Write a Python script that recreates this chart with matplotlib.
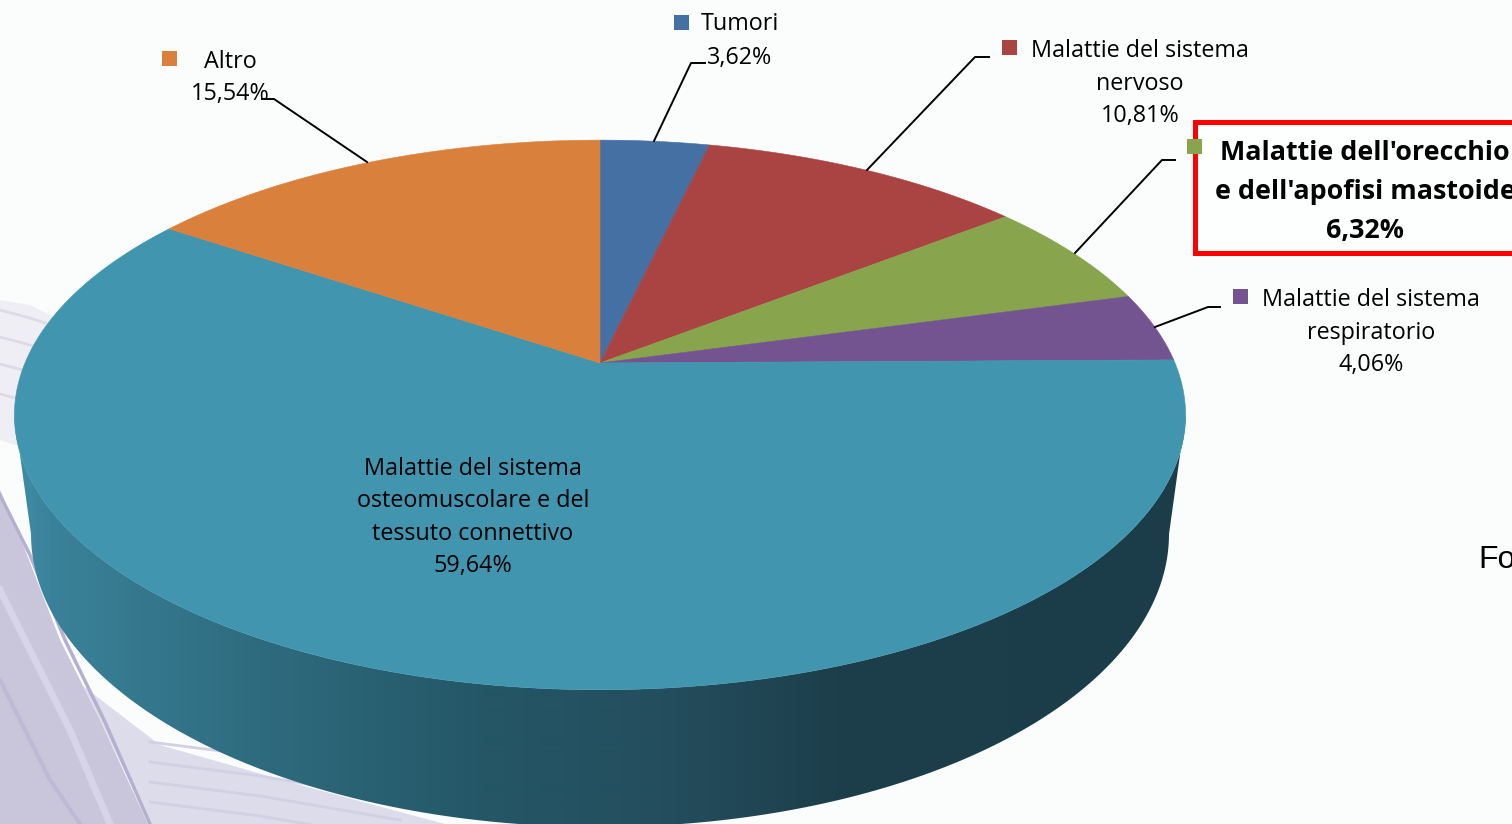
import numpy as np
import matplotlib
matplotlib.use('Agg')
import matplotlib.pyplot as plt
from matplotlib.colors import LinearSegmentedColormap
from matplotlib.patches import Polygon, Rectangle

# clockwise from 12 o'clock, same order as the original chart
values = [3.62, 10.81, 6.32, 4.06, 59.64, 15.54]
colors = ['#4570a3', '#a94442', '#88a44d', '#735490', '#4195af', '#d9813c']
value_labels = ['3,62%', '10,81%', '6,32%', '4,06%', '59,64%', '15,54%']
name_lines = [
    ['Tumori'],
    ['Malattie del sistema', 'nervoso'],
    ["Malattie dell'orecchio", "e dell'apofisi mastoide"],
    ['Malattie del sistema', 'respiratorio'],
    ['Malattie del sistema', 'osteomuscolare e del', 'tessuto connettivo'],
    ['Altro'],
]

# label layout in pixels: centre x, y of every line
label_x = [740, 1140, 1365, 1371, 473, 230]
label_y = [[24, 58], [51, 84, 116], [153, 192, 231], [300, 333, 365],
           [469, 501, 534, 566], [62, 94]]
key_xy = [(674, 15), (1002, 40), (1187, 139), (1233, 289), (330, 458), (162, 51)]
leaders = [
    [(654, 141), (691, 63), (705, 63)],
    [(867, 170), (975, 57), (989, 57)],
    [(1075, 253), (1162, 160), (1175, 160)],
    [(1155, 327), (1208, 307), (1220, 307)],
    None,
    [(367, 162), (274, 99), (262, 99)],
]

FONT = 'Open Sans'


def project(theta, apex_y=363.0, a=575.0, b=265.0, k=0.189):
    # perspective view of the pie disc, theta clockwise from the top
    u = np.sin(theta)
    v = np.cos(theta)
    d = 1 + k * v
    return 600 + a * u / d, apex_y - b * v / d


fig = plt.figure(figsize=(15.12, 8.24), dpi=100, facecolor='#fbfdfd')
ax = fig.add_axes([0, 0, 1, 1])
ax.axis('off')

# lavender swoosh of the slide background, bottom left
ax.fill([0, 40, 75, 160, 300, 445, 150, 100, 60, 25, 0],
        [620, 650, 680, 745, 785, 824, 824, 720, 640, 550, 490],
        color='#dddcea', lw=0, zorder=1)
ax.fill([0, 25, 60, 100, 148, 0], [490, 550, 640, 720, 824, 824],
        color='#c9c6dc', lw=0, zorder=1)
ax.plot([0, 30, 65, 105, 150], [495, 555, 640, 722, 824], color='#b5b0cf', lw=2.5, zorder=1)
ax.plot([0, 30, 70, 110], [590, 650, 730, 824], color='#d6d4e6', lw=5, zorder=1)
ax.plot([0, 25, 50, 80], [680, 730, 780, 824], color='#bdbad5', lw=3, zorder=1)
ax.fill([0, 30, 70, 40, 20, 30, 0], [300, 305, 325, 370, 420, 450, 440],
        color='#eeeef4', lw=0, zorder=1)
for yy in [318, 345, 372, 402]:
    ax.plot([0, 30, 45], [yy - 8, yy, yy + 5], color='#dddce6', lw=2, zorder=1)
for yy in [752, 772, 792, 812]:
    ax.plot([150, 260, 400], [yy - 10, yy + 4, yy + 28], color='#d2d0e3', lw=2, zorder=1)

# side wall: horizontal shading clipped to the outline of the disc edge
wall_cmap = LinearSegmentedColormap.from_list(
    'wall', [(0, '#3f8ea7'), (0.03, '#3a8299'), (0.2, '#2f6c80'), (0.4, '#245766'),
             (0.55, '#244e5e'), (0.7, '#1d3f4c'), (1, '#1b3c49')])
tt = np.linspace(np.pi / 2, 3 * np.pi / 2, 200)
low_x = 600 + 569 * np.sin(tt)
low_y = 534 - 293 * np.cos(tt)
top_t = np.linspace(np.pi * 3 / 2 - 0.19, np.pi / 2 + 0.19, 200)
up_x, up_y = project(top_t)
outline = np.column_stack([np.r_[low_x, up_x], np.r_[low_y, up_y]])
wall_img = ax.imshow(np.linspace(0, 1, 1175)[None, :], cmap=wall_cmap, aspect='auto',
                     extent=(13, 1188, 830, 400), zorder=2, interpolation='bilinear')
wall_patch = Polygon(outline, closed=True, transform=ax.transData, fc='none', ec='none')
ax.add_patch(wall_patch)
wall_img.set_clip_path(wall_patch)

# top face, one polygon per slice
edges = 2 * np.pi * np.r_[0, np.cumsum(values)] / np.sum(values)
for i, color in enumerate(colors):
    th = np.linspace(edges[i], edges[i + 1], 200)
    xs, ys = project(th)
    ax.fill(np.r_[600, xs], np.r_[363, ys], color=color, lw=0.4, zorder=3)

# red highlight box
ax.add_patch(Rectangle((1194.5, 122), 340, 131, fc='#fdfefe', ec='#fe0000', lw=3.6,
                       zorder=4, clip_on=True))

for i, name in enumerate(name_lines):
    if leaders[i] is not None:
        lx, ly = zip(*leaders[i])
        ax.plot(lx, ly, color='black', lw=1.4, zorder=5, solid_joinstyle='round')
    kx, ky = key_xy[i]
    ax.add_patch(Rectangle((kx, ky), 15, 15, fc=colors[i], ec='none', zorder=6))
    bold = i == 2
    lines = name + [value_labels[i]]
    for line, yy in zip(lines, label_y[i]):
        ax.text(label_x[i], yy, line, ha='center', va='center', family=FONT,
                fontsize=19.4 if bold else 16.8, fontweight='bold' if bold else 'normal',
                color='black', zorder=7)

ax.text(1478, 568, 'Fo', family='Liberation Sans', fontsize=23, color='black',
        ha='left', va='baseline', zorder=7)

ax.set_xlim(0, 1512)
ax.set_ylim(824, 0)
fig.savefig('out.png', dpi=100, facecolor=fig.get_facecolor())
